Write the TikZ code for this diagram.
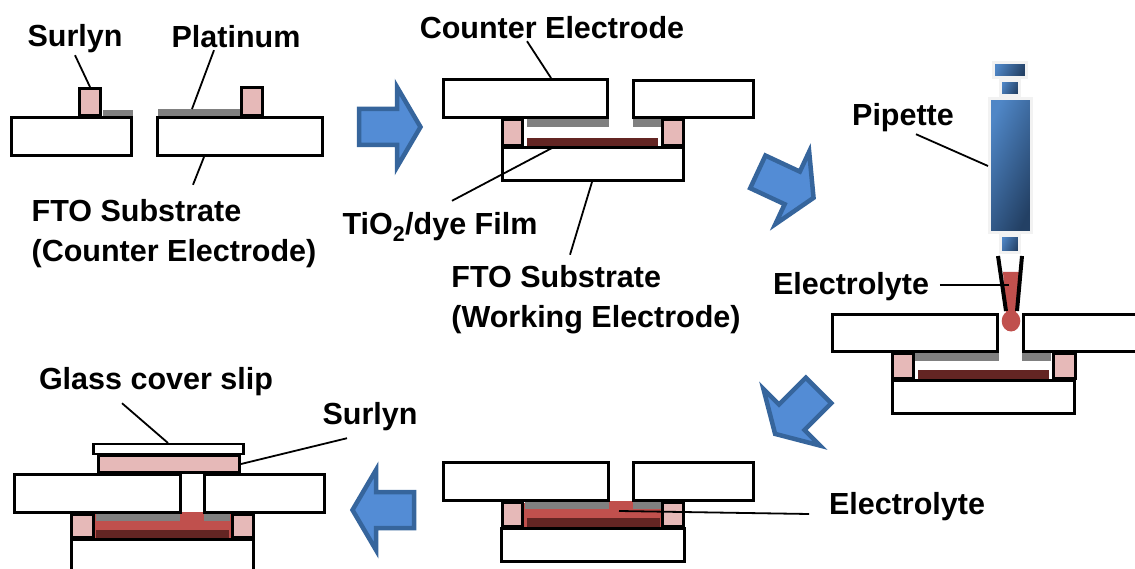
\documentclass[tikz,border=0pt]{standalone}
\usepackage{fontspec}
\setmainfont{Liberation Sans}

\definecolor{surlynpink}{HTML}{E6B9B8}
\definecolor{platinumgray}{HTML}{808080}
\definecolor{filmbrown}{HTML}{632523}
\definecolor{liquidred}{HTML}{C0504D}
\definecolor{arrowfill}{HTML}{538CD5}
\definecolor{arrowline}{HTML}{36659C}
\definecolor{pipettelight}{HTML}{4F86C6}
\definecolor{pipettedark}{HTML}{234064}

\tikzset{
  plate/.style={draw=black,fill=white,line width=2.9pt},
  surlynbox/.style={draw=black,fill=surlynpink,line width=3pt},
  platinumbar/.style={fill=platinumgray},
  filmbar/.style={fill=filmbrown},
  liquidbar/.style={fill=liquidred},
  callout/.style={font=\fontsize{30.5}{40}\selectfont\bfseries,inner sep=0pt,outer sep=2pt,align=left},
  leader/.style={draw=black,line width=1.8pt},
  flowarrow/.style={draw=arrowline,fill=arrowfill,line width=4.5pt},
  pipettepart/.style={draw=black!5,line width=3pt,top color=pipettelight,bottom color=pipettedark,shading angle=65},
}

\newcommand{\flowshape}[2]{
  \draw[flowarrow,shift={#1},rotate=#2] (2,-18) -- (40,-18) -- (40,-40) -- (63.5,0)
     -- (40,40) -- (40,18) -- (2,18) -- cycle;
}

\begin{document}
\begin{tikzpicture}[x=1pt,y=-1pt]
    \clip (0,0) rectangle (1135,569);

    % Electrolyte in the cells
    \foreach \xa/\ya/\xb/\yb in {524/503/661/527, 609/501/633/510,
                                 95/514/231/538, 181/512/203/522}
        \fill[liquidbar] (\xa,\ya) rectangle (\xb,\yb);

    % Platinum layers
    \foreach \xa/\ya/\xb/\yb in {103/110/133/117, 158/109/241/117,
                                 527/118/609/127, 633/118/661/127,
                                 915/352/999/361, 1022/352/1051/361,
                                 525/501/609/509, 633/501/661/509,
                                 96/513/180/521, 204/513/230/521}
        \fill[platinumbar] (\xa,\ya) rectangle (\xb,\yb);

    % TiO2 films
    \foreach \xa/\ya/\xb/\yb in {527/138/658/147, 918/370/1049/379,
                                 527/518/660/527, 96/530/229/538}
        \fill[filmbar] (\xa,\ya) rectangle (\xb,\yb);

    % Surlyn spacers
    \foreach \xa/\ya/\xb/\yb in {78/87/102/117, 240/86/264/117,
                                 501/118/524/147, 661/118/685/147,
                                 891.5/352/914.5/380, 1052.5/352/1076.5/380,
                                 501/501/524/528, 661/501/685/528,
                                 70/513/95/539, 231/513/255/539,
                                 97/454/241/474}
        \draw[surlynbox] ({\xa+1.4},{\ya+1.4}) rectangle ({\xb-1.4},{\yb-1.4});

    % FTO substrates
    \foreach \xa/\ya/\xb/\yb in {10.5/116/133.3/157.3, 155.7/116/324/157.3,
                                 441.7/77.7/609.3/119.3, 631.7/79.3/755/119.3, 500.7/146/685/181.7,
                                 831/312.7/999/353.3, 1021.7/312.7/1145/353.3, 891/379.3/1076/415,
                                 441.7/461/610/502, 632.3/461/755/502, 500.5/527/685.5/562.7,
                                 13.3/473.3/181.7/514.3, 203.3/473.3/326/514.3}
        \draw[plate] ({\xa+1.4},{\ya+1.4}) rectangle ({\xb-1.4},{\yb-1.4});
    \draw[plate] (71.3,575) -- (71.3,539.5) -- (253.6,539.5) -- (253.6,575);
    \draw[plate,line width=2.4pt] (93.5,444) rectangle (243.3,454);

    % Process arrows
    \flowshape{(357,127)}{0}
    \flowshape{(756,171)}{-25}
    \flowshape{(820,389)}{-135}
    \flowshape{(416,510)}{180}

    % Pipette
    \shade[pipettepart] (993,63) rectangle (1026,78);
    \shade[pipettepart] (1000,81) rectangle (1019,96);
    \shade[pipettepart] (989,99) rectangle (1031,233);
    \shade[pipettepart] (1000,236) rectangle (1019,253);
    \fill[liquidbar] (1003,272) -- (1019,272) -- (1016,312) -- (1006,312) -- cycle;
    \fill[liquidbar] (1011,321) ellipse (9.3 and 10.5);
    \draw[black,line width=4pt] (998,256) -- (1006,311);
    \draw[black,line width=4pt] (1022,256) -- (1017,311);

    % Labels
    \node[callout] (lblSurlynA) at (75,39) {Surlyn};
    \node[callout] (lblPlatinum) at (236,37) {Platinum};
    \node[callout] (lblFtoCounter) at (174,234) {FTO Substrate\\(Counter Electrode)};
    \node[callout] (lblCounter) at (552,28) {Counter Electrode};
    \node[callout] (lblFilm) at (440,227) {TiO\textsubscript{2}/dye Film};
    \node[callout] (lblFtoWorking) at (596,300) {FTO Substrate\\(Working Electrode)};
    \node[callout] (lblPipette) at (903,118) {Pipette};
    \node[callout] (lblElectrolyteA) at (851,287) {Electrolyte};
    \node[callout] (lblElectrolyteB) at (907,507) {Electrolyte};
    \node[callout] (lblGlass) at (156,382) {Glass cover slip};
    \node[callout] (lblSurlynB) at (370,417) {Surlyn};

    % Leader ends
    \coordinate (tipSurlynA) at (90,87);
    \coordinate (tipPlatinum) at (192,109);
    \coordinate (tipFtoCounter) at (204,157);
    \coordinate (tipCounter) at (551,78);
    \coordinate (tipFilm) at (552,148);
    \coordinate (tipFtoWorking) at (592,182);
    \coordinate (tipPipette) at (988,166);
    \coordinate (tipElectrolyteA) at (1009,285);
    \coordinate (tipElectrolyteB) at (619,511);
    \coordinate (tipGlass) at (168,443);
    \coordinate (tipSurlynB) at (241,464);

    % Leaders
    \draw[leader] (lblSurlynA.south) -- (tipSurlynA);
    \draw[leader] ([xshift=-22pt]lblPlatinum.south) -- (tipPlatinum);
    \draw[leader] ([xshift=19pt,yshift=13pt]lblFtoCounter.north) -- (tipFtoCounter);
    \draw[leader] ([xshift=-25pt]lblCounter.south) -- (tipCounter);
    \draw[leader] ([xshift=12pt,yshift=10pt]lblFilm.north) -- (tipFilm);
    \draw[leader] ([xshift=-26pt,yshift=9pt]lblFtoWorking.north) -- (tipFtoWorking);
    \draw[leader] ([xshift=13pt]lblPipette.south) -- (tipPipette);
    \draw[leader] ([xshift=9pt,yshift=2pt]lblElectrolyteA.east) -- (tipElectrolyteA);
    \draw[leader] ([xshift=-18pt,yshift=-7pt]lblElectrolyteB.west) -- (tipElectrolyteB);
    \draw[leader] ([xshift=-34pt,yshift=-5pt]lblGlass.south) -- (tipGlass);
    \draw[leader] ([xshift=-23pt,yshift=-5pt]lblSurlynB.south) -- (tipSurlynB);
\end{tikzpicture}
\end{document}
